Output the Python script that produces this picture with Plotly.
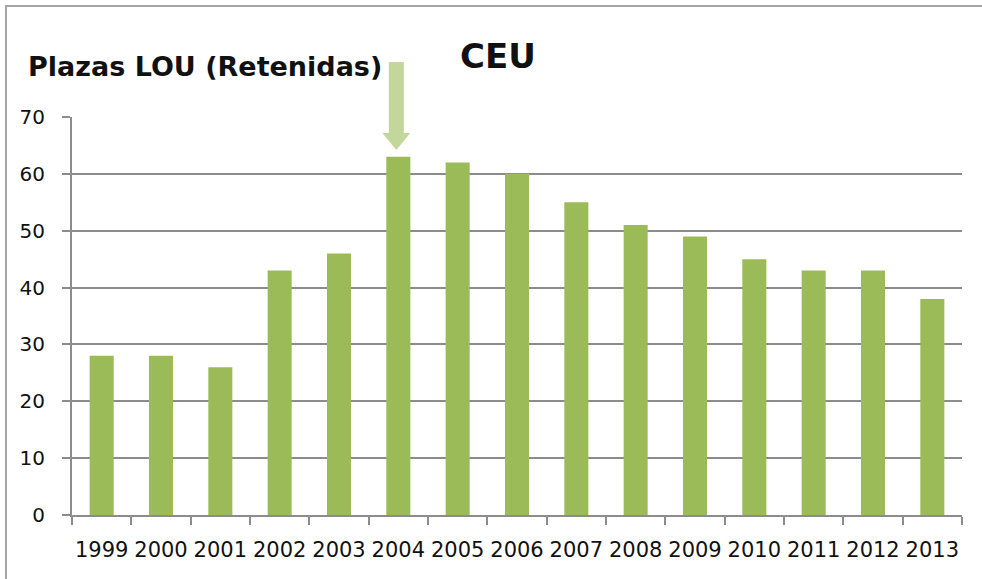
import plotly.graph_objects as go

years = ["1999", "2000", "2001", "2002", "2003", "2004", "2005", "2006",
         "2007", "2008", "2009", "2010", "2011", "2012", "2013"]
plazas = [28, 28, 26, 43, 46, 63, 62, 60, 55, 51, 49, 45, 43, 43, 38]
y_ticks = [0, 10, 20, 30, 40, 50, 60, 70]
title_left = "Plazas LOU (Retenidas)"
title_center = "CEU"
highlight_year = "2004"

W, H = 982, 579
ML, MR, MT, MB = 72, 20, 117, 64
PW, PH = W - ML - MR, H - MT - MB

def px_x(p):
    return (p - ML) / PW

def px_y(p):
    return (H - MB - p) / PH

fig = go.Figure()
fig.add_trace(go.Bar(x=years, y=plazas, marker=dict(color="#9BBB59", line=dict(width=0)),
                     hoverinfo="x+y"))

# arrow pointing at highlighted year
n = len(years)
cx = (years.index(highlight_year) + 0.5) / n - 2 / PW
hs = 7.5 / PW
hh = 14 / PW
yt, yb, ytip = px_y(62), px_y(133), px_y(150)
path = (f"M {cx-hs} {yt} L {cx+hs} {yt} L {cx+hs} {yb} L {cx+hh} {yb} "
        f"L {cx} {ytip} L {cx-hh} {yb} L {cx-hs} {yb} Z")

fig.update_layout(
    width=W, height=H,
    margin=dict(l=ML, r=MR, t=MT, b=MB, autoexpand=False),
    paper_bgcolor="white", plot_bgcolor="white",
    bargap=0.595,
    showlegend=False,
    font=dict(family="DejaVu Sans", color="#111111"),
    xaxis=dict(
        type="category",
        showgrid=False,
        showline=True, linecolor="#8c8c8c", linewidth=2,
        ticks="outside", tickson="boundaries", ticklen=8, tickcolor="#8c8c8c", tickwidth=1.5,
        tickfont=dict(size=21, family="DejaVu Sans", color="#111111"),
        tickangle=0, automargin=False,
        ticklabelstandoff=15,
    ),
    yaxis=dict(
        range=[0, 70], tickvals=y_ticks,
        showgrid=True, gridcolor="#8c8c8c", gridwidth=2,
        showline=True, linecolor="#8c8c8c", linewidth=2,
        ticks="outside", ticklen=8, tickcolor="#8c8c8c", tickwidth=1.5,
        tickfont=dict(size=20, family="DejaVu Sans", color="#111111"),
        ticklabelstandoff=13, automargin=False,
        zeroline=False,
    ),
    shapes=[
        dict(type="rect", xref="paper", yref="paper",
             x0=px_x(6), x1=px_x(1000), y0=px_y(600), y1=px_y(6),
             line=dict(color="#a6a6a6", width=2), fillcolor="rgba(0,0,0,0)", layer="below"),
        dict(type="path", xref="paper", yref="paper", path=path,
             fillcolor="#C3D69B", line=dict(width=0), layer="above"),
    ],
    annotations=[
        dict(text=title_left, xref="paper", yref="paper", x=px_x(26), y=px_y(66),
             xanchor="left", yanchor="middle", showarrow=False,
             font=dict(size=27, family="DejaVu Sans", color="#111111", weight="bold")),
        dict(text=title_center, xref="paper", yref="paper", x=px_x(498), y=px_y(56),
             xanchor="center", yanchor="middle", showarrow=False,
             font=dict(size=34, family="DejaVu Sans", color="#111111", weight="bold")),
    ],
)

fig.write_html("out.html", config={"displayModeBar": False},
               post_script="document.body.style.margin='0';document.body.style.overflow='hidden';")
